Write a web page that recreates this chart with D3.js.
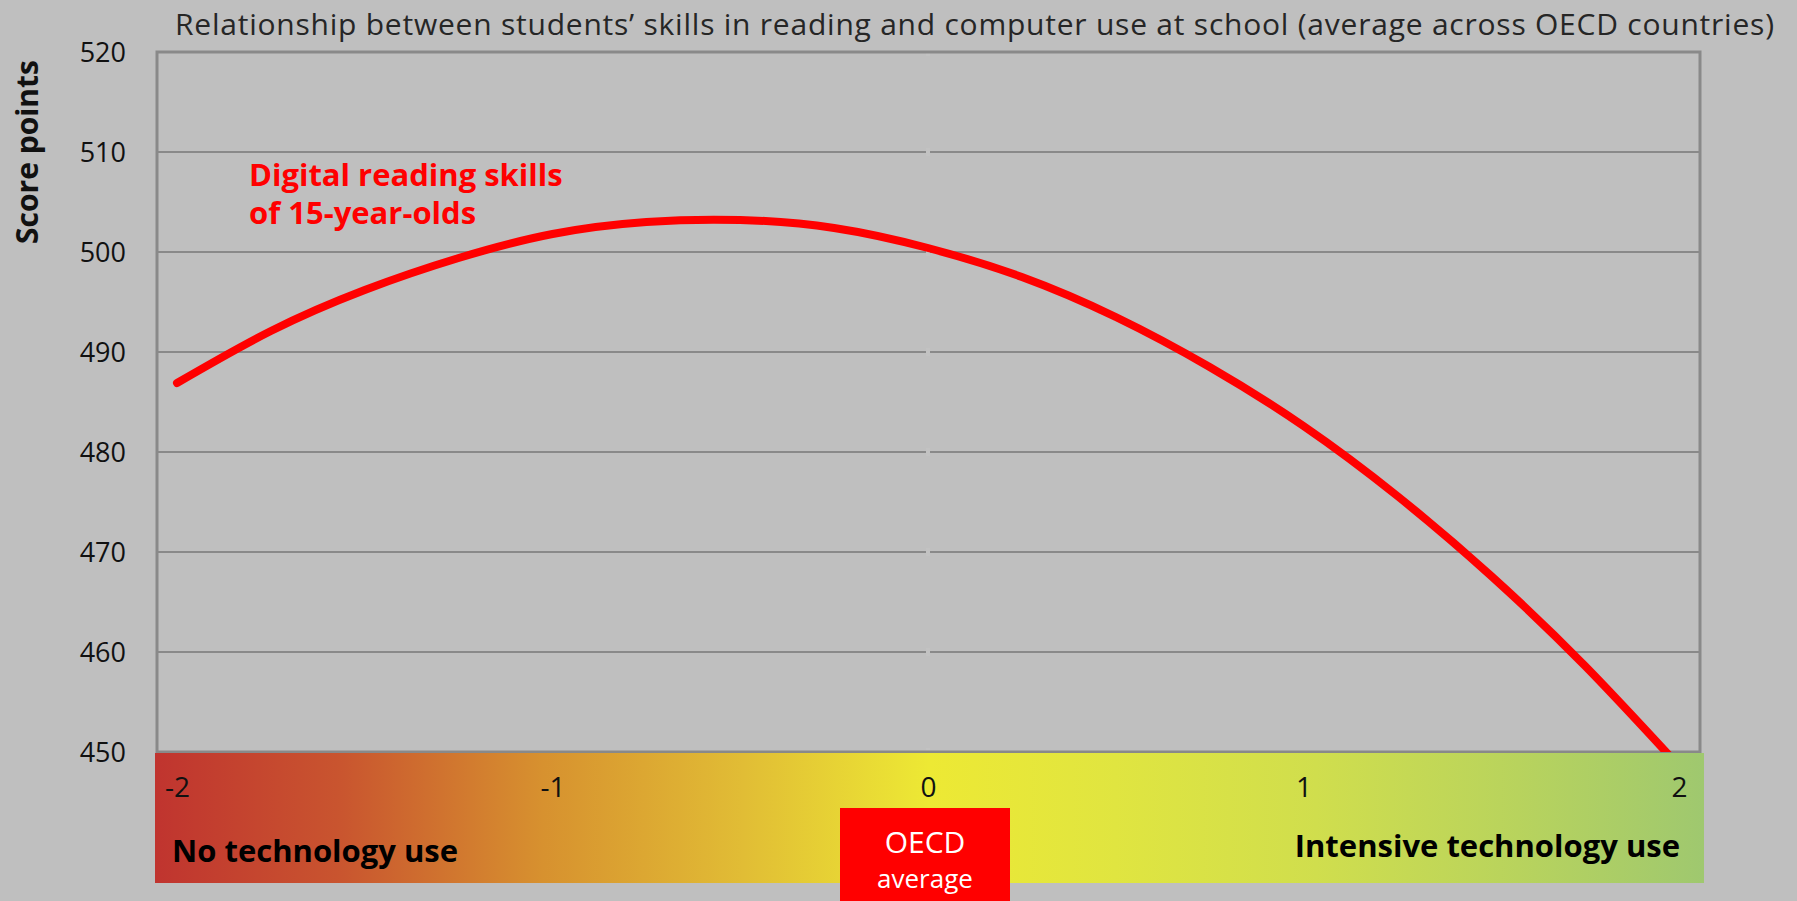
<!DOCTYPE html>
<html>
<head>
<meta charset="utf-8">
<script src="https://cdn.jsdelivr.net/npm/d3@7"></script>
<style>
  html, body { margin: 0; padding: 0; background: #bfbfbf; }
  svg { display: block; font-family: "Open Sans", sans-serif; }
</style>
</head>
<body>
<div id="chart"></div>
<script>
// values
const xValues = [-2, -1.75, -1.5, -1.25, -1, -0.75, -0.5, -0.25, 0, 0.25, 0.5, 0.75, 1, 1.25, 1.5, 1.75, 2];
const scores  = [486.9, 492.1, 496.2, 499.4, 501.8, 503.0, 503.2, 502.4, 500.4, 497.5, 493.5, 488.5, 482.6, 475.6, 467.6, 458.6, 448.6];
const yTicks = [450, 460, 470, 480, 490, 500, 510, 520];
const xTicks = [-2, -1, 0, 1, 2];
const gradStops = [
  ['0%', '#c0342f'], ['12%', '#c9552f'], ['25%', '#d7912f'], ['38%', '#e1bd35'],
  ['50%', '#ede934'], ['62%', '#e0e540'], ['75%', '#d0de4d'], ['88%', '#b8d35d'], ['100%', '#9fc86f']
];

const W = 1797, H = 901;
const plot = { left: 157, right: 1700, top: 52, bottom: 752 };

const svg = d3.select('#chart').append('svg')
  .attr('width', W).attr('height', H);

svg.append('rect').attr('width', W).attr('height', H).attr('fill', '#bfbfbf');

const x = d3.scaleLinear().domain([-2, 2]).range([177, 1679]);
const y = d3.scaleLinear().domain([450, 520]).range([plot.bottom, plot.top]);

// title
svg.append('text')
  .attr('x', 175).attr('y', 35)
  .attr('textLength', 1599).attr('lengthAdjust', 'spacing')
  .attr('font-size', 30).attr('fill', '#262626')
  .text('Relationship between students\u2019 skills in reading and computer use at school (average across OECD countries)');

// gridlines
svg.append('g')
  .selectAll('line')
  .data(yTicks.filter(d => d > 450 && d < 520))
  .enter().append('line')
  .attr('x1', plot.left).attr('x2', plot.right)
  .attr('y1', d => y(d)).attr('y2', d => y(d))
  .attr('stroke', '#898989').attr('stroke-width', 2);

// faint break at x = 0
svg.append('line')
  .attr('x1', x(0)).attr('x2', x(0))
  .attr('y1', plot.top).attr('y2', plot.bottom)
  .attr('stroke', '#c2c2c2').attr('stroke-width', 4)
  .attr('stroke-dasharray', '8,92').attr('stroke-dashoffset', 4);

// frame
svg.append('rect')
  .attr('x', plot.left).attr('y', plot.top)
  .attr('width', plot.right - plot.left).attr('height', plot.bottom - plot.top)
  .attr('fill', 'none').attr('stroke', '#898989').attr('stroke-width', 3);

// y axis labels
const yAxis = d3.axisLeft(y).tickValues(yTicks).tickSize(0).tickPadding(0);
const gy = svg.append('g').attr('transform', 'translate(126,0)').call(yAxis);
gy.select('.domain').remove();
gy.selectAll('text')
  .attr('font-family', '"Open Sans", sans-serif')
  .attr('font-size', 27).attr('fill', '#111')
  .attr('dy', '0.35em');

svg.append('text')
  .attr('transform', 'translate(38,152) rotate(-90)')
  .attr('text-anchor', 'middle')
  .attr('font-size', 30).attr('font-weight', 'bold').attr('fill', '#111')
  .text('Score points');

// gradient band
const defs = svg.append('defs');
const grad = defs.append('linearGradient').attr('id', 'band')
  .attr('x1', '0%').attr('x2', '100%').attr('y1', '0%').attr('y2', '0%');
grad.selectAll('stop').data(gradStops).enter().append('stop')
  .attr('offset', d => d[0]).attr('stop-color', d => d[1]);

svg.append('rect')
  .attr('x', 155).attr('y', 753)
  .attr('width', 1704 - 155).attr('height', 883 - 753)
  .attr('fill', 'url(#band)');

// curve
defs.append('clipPath').attr('id', 'clip')
  .append('rect')
  .attr('x', plot.left).attr('y', plot.top - 10)
  .attr('width', plot.right - plot.left).attr('height', plot.bottom - plot.top + 10);

const line = d3.line()
  .x((d, i) => x(xValues[i]))
  .y(d => y(d))
  .curve(d3.curveNatural);

svg.append('path')
  .datum(scores)
  .attr('clip-path', 'url(#clip)')
  .attr('d', line)
  .attr('fill', 'none')
  .attr('stroke', '#ff0000')
  .attr('stroke-width', 8)
  .attr('stroke-linecap', 'round');

// x axis labels
const xAxis = d3.axisBottom(x).tickValues(xTicks).tickSize(0).tickPadding(0)
  .tickFormat(d => String(d));
const gx = svg.append('g').attr('transform', 'translate(0,797)').call(xAxis);
gx.select('.domain').remove();
gx.selectAll('text')
  .attr('font-family', '"Open Sans", sans-serif')
  .attr('font-size', 28).attr('fill', '#111')
  .attr('dy', 0);

// series label
const lab = svg.append('text')
  .attr('font-size', 31).attr('font-weight', 'bold').attr('fill', '#ff0000');
lab.append('tspan').attr('x', 249).attr('y', 186).text('Digital reading skills');
lab.append('tspan').attr('x', 249).attr('y', 224).text('of 15-year-olds');

// band captions
svg.append('text')
  .attr('x', 172).attr('y', 862)
  .attr('font-size', 31).attr('font-weight', 'bold').attr('fill', '#000')
  .text('No technology use');

svg.append('text')
  .attr('x', 1680).attr('y', 857)
  .attr('text-anchor', 'end')
  .attr('font-size', 31).attr('font-weight', 'bold').attr('fill', '#000')
  .text('Intensive technology use');

// OECD average box
svg.append('rect')
  .attr('x', 840).attr('y', 808)
  .attr('width', 170).attr('height', H - 808)
  .attr('fill', '#ff0000');

svg.append('text')
  .attr('x', 925).attr('y', 853)
  .attr('text-anchor', 'middle')
  .attr('font-size', 30).attr('fill', '#fff')
  .text('OECD');

svg.append('text')
  .attr('x', 925).attr('y', 888)
  .attr('text-anchor', 'middle')
  .attr('font-size', 26).attr('fill', '#fff')
  .text('average');
</script>
</body>
</html>
